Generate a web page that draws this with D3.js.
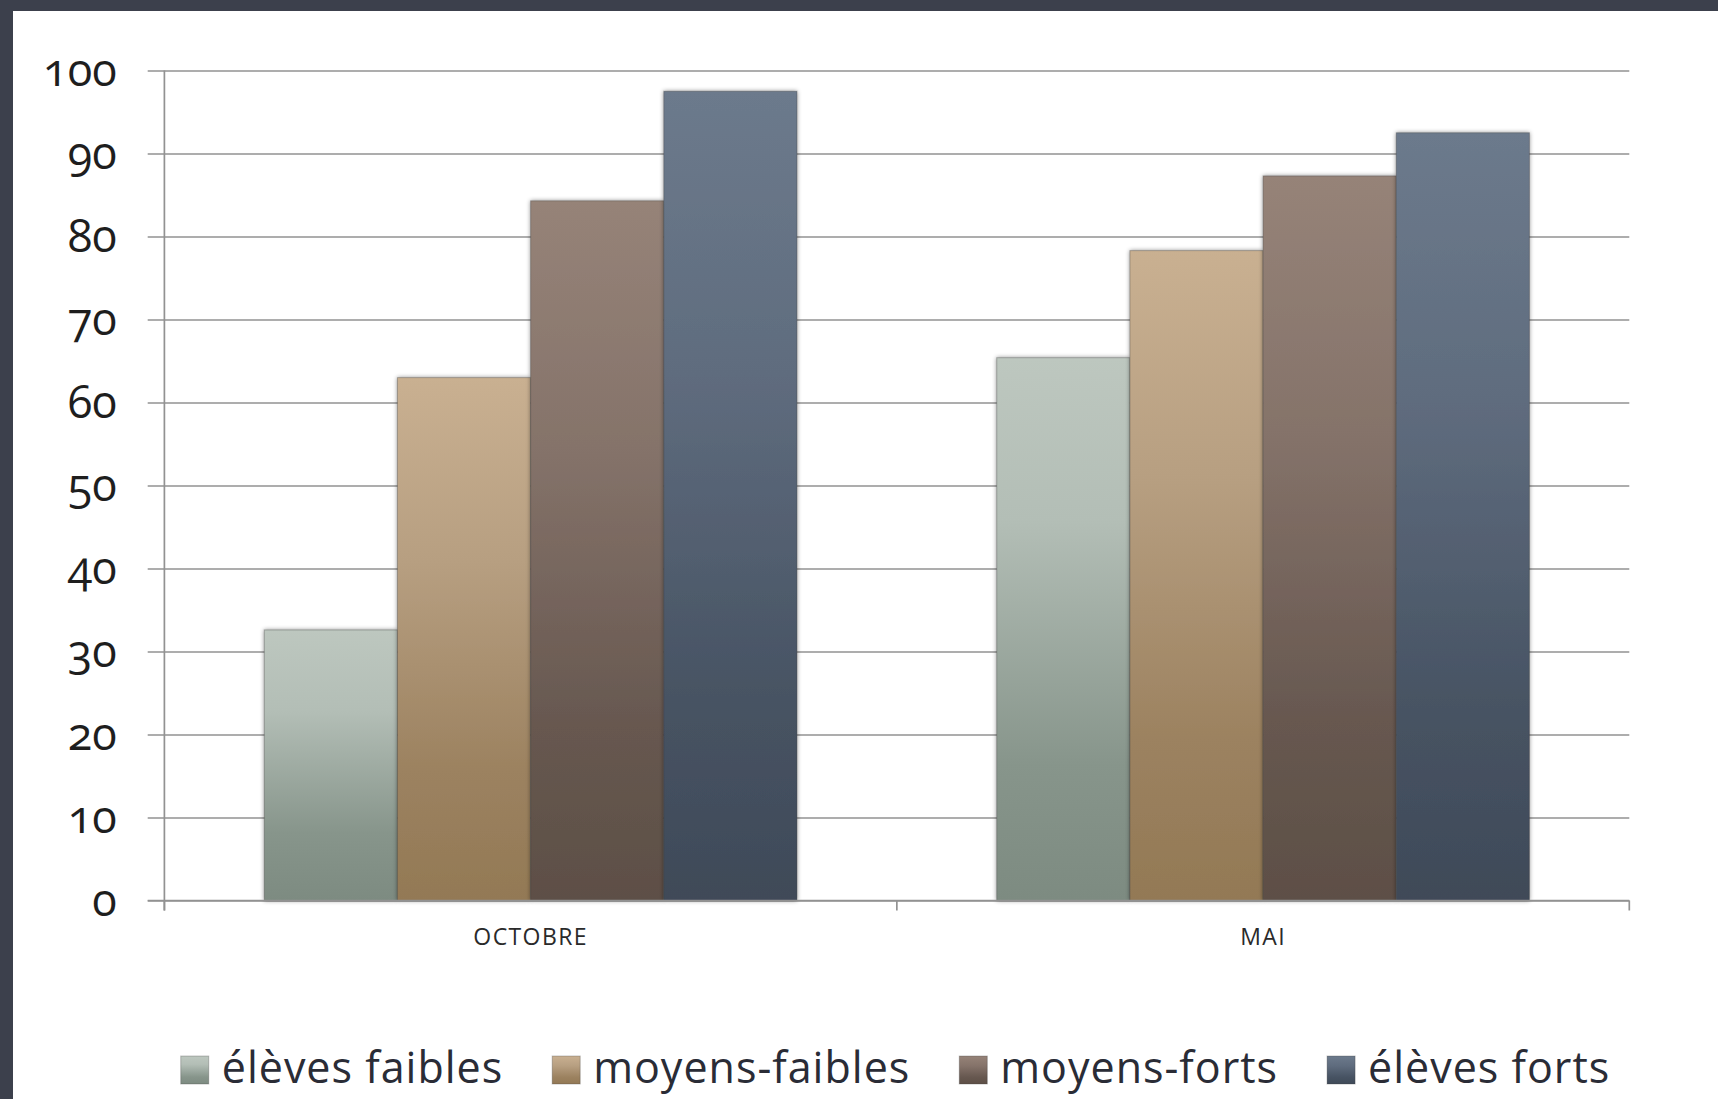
<!DOCTYPE html>
<html>
<head>
<meta charset="utf-8">
<script src="https://cdn.jsdelivr.net/npm/d3@7"></script>
<style>
  html, body { margin: 0; padding: 0; background: #3c404c; }
  svg { display: block; }
  .ytick text { font-family: "Open Sans", sans-serif; font-feature-settings: "onum" 1; font-variant-numeric: oldstyle-nums; }
</style>
</head>
<body>
<svg id="chart" width="1718" height="1099"></svg>
<script>
// ---- data ----
const categories = ["OCTOBRE", "MAI"];
const seriesNames = ["élèves faibles", "moyens-faibles", "moyens-forts", "élèves forts"];
const elevesFaibles = [32.6, 65.4];
const moyensFaibles = [63.0, 78.3];
const moyensForts = [84.3, 87.3];
const elevesForts = [97.5, 92.5];
const yTicks = [0, 10, 20, 30, 40, 50, 60, 70, 80, 90, 100];

const seriesValues = [elevesFaibles, moyensFaibles, moyensForts, elevesForts];
const gradStops = [
  [["0%", "#bdc7bf"], ["30%", "#b3beb6"], ["75%", "#87958b"], ["100%", "#7d8b81"]],
  [["0%", "#c9b091"], ["35%", "#b79f81"], ["75%", "#9c8260"], ["100%", "#937955"]],
  [["0%", "#968378"], ["35%", "#85736a"], ["75%", "#675850"], ["100%", "#5d4f46"]],
  [["0%", "#6c7a8c"], ["35%", "#5f6c7e"], ["75%", "#475363"], ["100%", "#3f4a58"]]
];

const svg = d3.select("#chart");

// background: dark frame + white panel
svg.append("rect").attr("x", 0).attr("y", 0).attr("width", 1718).attr("height", 1099).attr("fill", "#3c404c");
svg.append("rect").attr("x", 13).attr("y", 11).attr("width", 1705).attr("height", 1088).attr("fill", "#ffffff");

const defs = svg.append("defs");
gradStops.forEach((stops, i) => {
  const g = defs.append("linearGradient").attr("id", "grad" + i)
    .attr("x1", 0).attr("y1", 0).attr("x2", 0).attr("y2", 1);
  stops.forEach(s => g.append("stop").attr("offset", s[0]).attr("stop-color", s[1]));
});
const f = defs.append("filter").attr("id", "shadow").attr("x", "-10%").attr("y", "-5%").attr("width", "120%").attr("height", "110%");
f.append("feDropShadow").attr("dx", 0).attr("dy", 0).attr("stdDeviation", 2.2).attr("flood-color", "#000").attr("flood-opacity", 0.45);

// scales
const plotLeft = 164.4, plotRight = 1629.3, tickLeft = 147.7;
const y = d3.scaleLinear().domain([0, 100]).range([900.5, 70.5]);
const x0 = d3.scaleBand().domain(categories).range([plotLeft, plotRight]).paddingInner(0).paddingOuter(0);
const x1 = d3.scaleBand().domain(seriesNames).range([0, x0.bandwidth()]).paddingInner(0).paddingOuter(0.75);

// y axis with gridlines
const yAxis = d3.axisLeft(y).tickValues(yTicks)
  .tickSizeInner(-(plotRight - tickLeft)).tickSizeOuter(0).tickPadding(31);
const yg = svg.append("g").attr("class", "ytick").attr("transform", `translate(${tickLeft},0)`).call(yAxis);
yg.select(".domain").remove();
yg.selectAll(".tick line").attr("stroke", "#929292").attr("stroke-width", 1.7);
yg.selectAll(".tick text").attr("fill", "#1e1e1e").attr("font-size", 45).attr("dy", 0).attr("y", 15);

// vertical y axis line
svg.append("line").attr("x1", plotLeft).attr("x2", plotLeft).attr("y1", y(100)).attr("y2", y(0) + 10)
  .attr("stroke", "#929292").attr("stroke-width", 1.7);

// bars
const groups = svg.append("g").selectAll("g").data(categories).join("g")
  .attr("transform", d => `translate(${x0(d)},0)`);
groups.selectAll("rect").data((c, ci) => seriesNames.map((s, si) => ({ s, si, v: seriesValues[si][ci] })))
  .join("rect")
  .attr("x", d => x1(d.s))
  .attr("y", d => y(d.v))
  .attr("width", x1.bandwidth())
  .attr("height", d => y(0) - y(d.v))
  .attr("fill", d => `url(#grad${d.si})`)
  .attr("stroke", "rgba(60,60,60,0.35)")
  .attr("stroke-width", 1)
  .attr("filter", "url(#shadow)");

// x axis
const xg = svg.append("g").attr("transform", `translate(0,${y(0)})`);
xg.append("line").attr("x1", tickLeft).attr("x2", plotRight).attr("y1", 0).attr("y2", 0)
  .attr("stroke", "#929292").attr("stroke-width", 1.7);
const edges = categories.map(c => x0(c)).concat([x0(categories[categories.length - 1]) + x0.bandwidth()]);
xg.selectAll(".edge").data(edges).join("line").attr("class", "edge")
  .attr("x1", d => d).attr("x2", d => d).attr("y1", 0).attr("y2", 10)
  .attr("stroke", "#929292").attr("stroke-width", 1.7);
const xAxis = d3.axisBottom(x0).tickSize(0).tickPadding(0);
const xl = svg.append("g").attr("transform", `translate(0,${y(0)})`).call(xAxis);
xl.select(".domain").remove();
xl.selectAll(".tick text").attr("y", 44).attr("dy", 0)
  .attr("font-family", "'Open Sans', sans-serif").attr("font-size", 23).attr("letter-spacing", 1.4)
  .attr("fill", "#2a2a2a");

// legend
const legend = svg.append("g");
const items = legend.selectAll("g").data(seriesNames).join("g");
items.append("rect").attr("x", 0).attr("y", -27).attr("width", 28).attr("height", 28)
  .attr("fill", (d, i) => `url(#grad${i})`).attr("stroke", "rgba(60,60,60,0.3)").attr("stroke-width", 1);
items.append("text").attr("x", 41).attr("y", 0)
  .attr("font-family", "'Open Sans', sans-serif").attr("font-size", 43).attr("letter-spacing", 1)
  .attr("fill", "#2a2c36")
  .text(d => d);
let widths = [];
items.each(function () { widths.push(41 + d3.select(this).select("text").node().getComputedTextLength()); });
const gap = 49;
const total = d3.sum(widths) + gap * (widths.length - 1);
let cx = 895.5 - total / 2;
items.attr("transform", (d, i) => {
  const t = `translate(${cx},1083)`;
  cx += widths[i] + gap;
  return t;
});
</script>
</body>
</html>
